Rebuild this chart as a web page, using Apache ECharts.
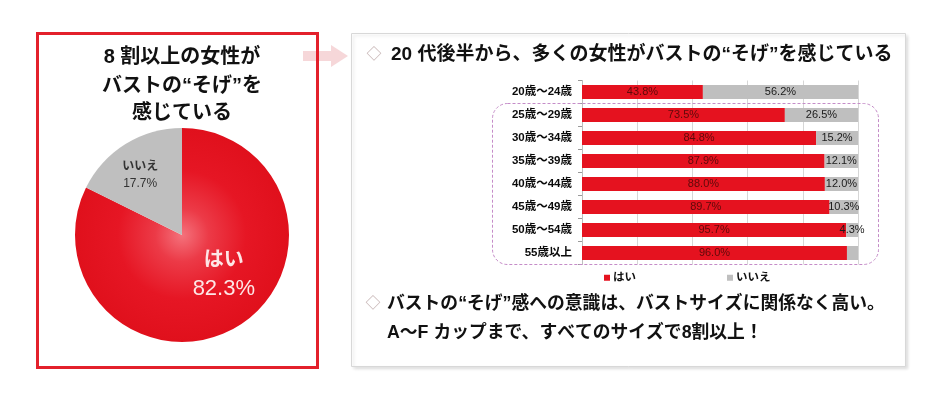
<!DOCTYPE html>
<html><head><meta charset="utf-8">
<script src="https://cdn.jsdelivr.net/npm/echarts@6/dist/echarts.min.js"></script>
<style>html,body{margin:0;padding:0;background:#fff}#c{width:940px;height:411px}</style>
</head><body><div id="c"></div>
<script>
const ageCategories = ['20歳～24歳','25歳～29歳','30歳～34歳','35歳～39歳','40歳～44歳','45歳～49歳','50歳～54歳','55歳以上'];
const yesValues = [43.8, 73.5, 84.8, 87.9, 88.0, 89.7, 95.7, 96.0];
const noValues  = [56.2, 26.5, 15.2, 12.1, 12.0, 10.3, 4.3, 4.0];
const seriesNames = ['はい', 'いいえ'];
const pieValues = [82.3, 17.7];
const leftTitle = ['8 割以上の女性が', 'バストの“そげ”を', '感じている'];
const rightTitle = '20 代後半から、多くの女性がバストの“そげ”を感じている';
const bottomText = ['バストの“そげ”感への意識は、バストサイズに関係なく高い。', 'A～F カップまで、すべてのサイズで8割以上！'];

const FF = "'Liberation Sans', 'Noto Sans CJK JP', sans-serif";
const NF = "'Liberation Sans Narrow', 'Liberation Sans', 'Noto Sans CJK JP', sans-serif";
const RED = '#e5121f';
const GRAY = '#bfbfbf';

const chart = echarts.init(document.getElementById('c'), null, {renderer: 'canvas'});

function txt(text, x, y, size, color, align, z) {
  return {type: 'text', x: x, y: y, z: z || 10,
    style: {text: text, fontSize: size, fontWeight: 'bold', fontFamily: FF, fill: color,
      align: align || 'left', verticalAlign: 'middle'}};
}

const graphics = [
  // right box
  {type: 'rect', z: 0, shape: {x: 351.5, y: 33.5, width: 554, height: 333},
    style: {fill: '#fff', stroke: '#d8d8d8', lineWidth: 1,
      shadowBlur: 3, shadowColor: 'rgba(0,0,0,0.12)', shadowOffsetX: 2, shadowOffsetY: 2}},
  // arrow
  {type: 'polygon', z: 1, shape: {points: [[303, 51], [331, 51], [331, 45], [348, 56], [331, 67], [331, 61], [303, 61]]},
    style: {fill: 'rgba(238,175,180,0.5)'}},
  // left box border
  {type: 'rect', z: 2, shape: {x: 37.5, y: 33.5, width: 280, height: 334},
    style: {fill: 'none', stroke: '#e3202b', lineWidth: 3}},
  // dashed rounded rect
  {type: 'rect', z: 1, shape: {x: 492.5, y: 103.5, width: 386, height: 161, r: 15},
    style: {fill: 'none', stroke: '#c58cc8', lineWidth: 1, lineDash: [3, 2]}},
  // left titles
  txt(leftTitle[0], 182, 57, 20, '#111', 'center'),
  txt(leftTitle[1], 182, 86, 20, '#111', 'center'),
  txt(leftTitle[2], 182, 113, 20, '#111', 'center'),
  // right title
  txt('◇', 374, 55, 15, '#c9b8b8', 'center'),
  txt(rightTitle, 391, 55, 19, '#111', 'left'),
  // bottom texts
  txt('◇', 373, 304, 15, '#c9b8b8', 'center'),
  txt(bottomText[0], 387, 304, 17.8, '#111', 'left'),
  txt(bottomText[1], 387, 333, 17.8, '#111', 'left')
];

const option = {
  backgroundColor: '#fff',
  animation: false,
  graphic: graphics,
  legend: {
    data: seriesNames,
    left: 599, top: 267,
    itemWidth: 6, itemHeight: 6, itemGap: 91,
    icon: 'rect',
    textStyle: {fontSize: 11.5, fontWeight: 'bold', color: '#111', fontFamily: FF, padding: [0, 0, 0, -2]}
  },
  grid: {left: 582, top: 80.5, width: 276, height: 184, containLabel: false},
  xAxis: {
    type: 'value', min: 0, max: 100, interval: 20,
    axisLabel: {show: false}, axisTick: {show: false}, axisLine: {show: false},
    splitLine: {show: true, lineStyle: {color: '#d6d6d6', width: 1}}
  },
  yAxis: {
    type: 'category', data: ageCategories, inverse: true,
    axisLine: {show: true, lineStyle: {color: '#bdbdbd'}},
    axisTick: {show: true, length: 4, lineStyle: {color: '#9a9a9a'}},
    axisLabel: {fontSize: 11.5, fontWeight: 'bold', color: '#0a0a0a', fontFamily: FF, margin: 10}
  },
  series: [
    {
      type: 'pie', name: 'pie', center: [182, 235], radius: 107,
      startAngle: 90, clockwise: true, silent: true,
      label: {show: true, position: 'inside',
        formatter: p => '{n|' + p.name + '}\n{v|' + p.value.toFixed(1) + '%}'},
      labelLine: {show: false},
      labelLayout: p => p.dataIndex === 0 ? {dx: 12, dy: -9} : {dx: -12, dy: -12},
      data: [
        {name: seriesNames[0], value: pieValues[0],
          itemStyle: {color: {type: 'radial', x: 0.5, y: 0.5, r: 0.5,
            colorStops: [{offset: 0, color: '#f4727c'}, {offset: 0.25, color: '#ec3a47'},
              {offset: 0.6, color: '#e61624'}, {offset: 1, color: '#e0101c'}]}},
          label: {rich: {
            n: {fontSize: 20, fontWeight: 'bold', color: '#fde6e6', fontFamily: FF, lineHeight: 29, align: 'center'},
            v: {fontSize: 22, color: '#fde6e6', fontFamily: FF, lineHeight: 28, align: 'center'}}}},
        {name: seriesNames[1], value: pieValues[1],
          itemStyle: {color: GRAY},
          label: {rich: {
            n: {fontSize: 12, fontWeight: 'bold', color: '#333', fontFamily: FF, lineHeight: 17, align: 'center'},
            v: {fontSize: 12, color: '#333', fontFamily: FF, lineHeight: 17, align: 'center'}}}}
      ]
    },
    {
      type: 'bar', name: seriesNames[0], stack: 'a', barWidth: 14,
      itemStyle: {color: RED},
      label: {show: true, position: 'inside', fontSize: 11, color: '#5e0a0a', fontFamily: NF,
        formatter: p => p.value.toFixed(1) + '%'},
      data: yesValues
    },
    {
      type: 'bar', name: seriesNames[1], stack: 'a', barWidth: 14,
      itemStyle: {color: GRAY},
      label: {show: true, position: 'inside', fontSize: 11, color: '#1a1a1a', fontFamily: NF,
        formatter: p => p.value.toFixed(1) + '%'},
      data: noValues.map((v, i) => i === noValues.length - 1 ? {value: v, label: {show: false}} : v)
    }
  ]
};
chart.setOption(option);
</script></body></html>
